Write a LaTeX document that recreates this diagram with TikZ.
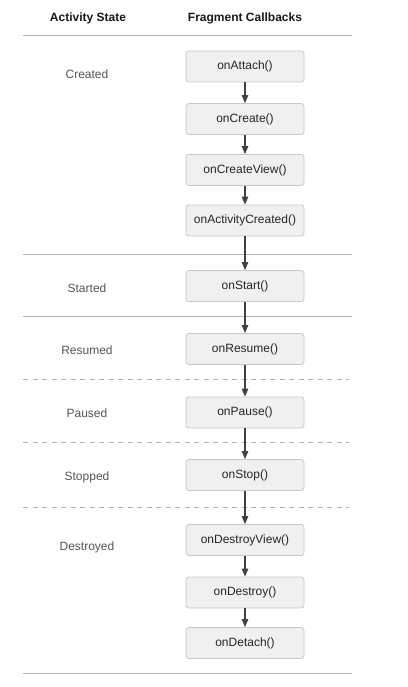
\documentclass[tikz,border=0pt]{standalone}
\usepackage{fontspec}
\setmainfont{Liberation Sans}
\usetikzlibrary{arrows.meta}

\definecolor{boxfill}{HTML}{F0F0F0}
\definecolor{boxline}{HTML}{C8C8C8}
\definecolor{rule}{HTML}{B4B4B4}
\definecolor{flow}{HTML}{404040}
\definecolor{statetext}{HTML}{555555}

\tikzset{
    callback/.style={draw=boxline, fill=boxfill, rounded corners=3pt, line width=0.8pt,
        minimum width=118pt, minimum height=31pt, inner sep=0pt,
        font=\fontsize{12}{14}\selectfont, text=black!85},
    state/.style={font=\fontsize{12}{14}\selectfont, text=statetext},
    header/.style={font=\fontsize{12}{14}\selectfont\bfseries, text=black!90},
    solidrule/.style={draw=rule, line width=1pt},
    dashrule/.style={draw=rule, line width=1pt, dash pattern=on 5pt off 4.5pt},
    flowarrow/.style={draw=flow, line width=1.1pt, -{Triangle[width=6.5pt,length=8pt]}}
}

\begin{document}
\begin{tikzpicture}[x=1pt, y=-1pt]
            \useasboundingbox (0, 0) rectangle (407, 687);

            % column headers
            \node[header] (hstate) at (88, 18) {Activity State};
            \node[header] (hcall) at (245, 18) {Fragment Callbacks};

            % separators
            \draw[solidrule] (23, 36) -- (352, 36);
            \draw[solidrule] (23, 254) -- (352, 254);
            \draw[solidrule] (23, 316) -- (352, 316);
            \draw[dashrule] (23, 379) -- (349, 379);
            \draw[dashrule] (23, 442) -- (349, 442);
            \draw[dashrule] (23, 507) -- (349, 507);
            \draw[solidrule] (23, 673) -- (352, 673);

            % activity states
            \node[state] (created) at (87, 74) {Created};
            \node[state] (started) at (87, 288) {Started};
            \node[state] (resumed) at (87, 350) {Resumed};
            \node[state] (paused) at (87, 413) {Paused};
            \node[state] (stopped) at (87, 477) {Stopped};
            \node[state] (destroyed) at (87, 547) {Destroyed};

            % fragment callbacks
            \node[callback] (attach) at (245, 66.5) {onAttach()};
            \node[callback] (create) at (245, 119) {onCreate()};
            \node[callback] (createview) at (245, 170) {onCreateView()};
            \node[callback] (actcreated) at (245, 220.5) {onActivityCreated()};
            \node[callback] (start) at (245, 286) {onStart()};
            \node[callback] (resume) at (245, 349) {onResume()};
            \node[callback] (pause) at (245, 412.5) {onPause()};
            \node[callback] (stop) at (245, 475) {onStop()};
            \node[callback] (destroyview) at (245, 540) {onDestroyView()};
            \node[callback] (destroy) at (245, 592.5) {onDestroy()};
            \node[callback] (detach) at (245, 643) {onDetach()};

            \draw[flowarrow] (attach) to (create);
            \draw[flowarrow] (create) to (createview);
            \draw[flowarrow] (createview) to (actcreated);
            \draw[flowarrow] (actcreated) to (start);
            \draw[flowarrow] (start) to (resume);
            \draw[flowarrow] (resume) to (pause);
            \draw[flowarrow] (pause) to (stop);
            \draw[flowarrow] (stop) to (destroyview);
            \draw[flowarrow] (destroyview) to (destroy);
            \draw[flowarrow] (destroy) to (detach);
        \end{tikzpicture}
\end{document}
